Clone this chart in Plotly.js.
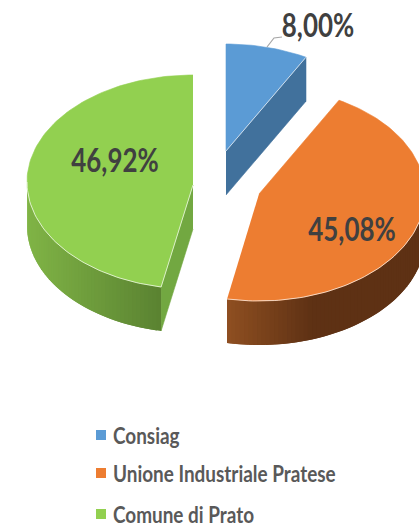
<!DOCTYPE html>
<html>
<head>
<meta charset="utf-8">
<script src="https://cdn.plot.ly/plotly-3.0.1.min.js"></script>
<style>html,body{margin:0;padding:0;background:#fff;overflow:hidden}#chart{width:419px;height:526px}</style>
</head>
<body>
<div id="chart"></div>
<script>
// Quota shares, in percent, clockwise from twelve o'clock
const categories = ['Consiag', 'Unione Industriale Pratese', 'Comune di Prato'];
const shares = [8.00, 45.08, 46.92];
const topColors = ['#5B9BD5', '#ED7D31', '#92D050'];
const wallColors = ['#41719C', '#AE5A21', '#72A841'];
const sideFrom = ['#41719C', '#8F4F21', '#80B446'];
const sideTo = ['#41719C', '#5E3114', '#5A8231'];

// Projected pie geometry, in page pixels
const RX = 166, RY = 107, DEPTH = 44;
const centers = [[226, 151], [259, 194], [193, 182]];
const apexDrop = [0, 0, 3];
const sideGradientSpan = [1, 85, 135];
const labelAt = [[318, 29], [352, 233], [115, 164]];
const legendRows = [435, 473, 514];
const VALUE_WIDTH = 0.81, KEY_WIDTH = 0.86;

const rad = d => d * Math.PI / 180;
const pointOn = (c, deg, drop = 0) => [c[0] + RX * Math.sin(rad(deg)), c[1] - RY * Math.cos(rad(deg)) + drop];
function arc(c, from, to, drop = 0) {
  const n = Math.max(2, Math.ceil(Math.abs(to - from) / 1.5));
  const pts = [];
  for (let i = 0; i <= n; i++) pts.push(pointOn(c, from + (to - from) * i / n, drop));
  return pts;
}
const hex = s => [1, 3, 5].map(i => parseInt(s.substr(i, 2), 16));
function mix(a, b, t) {
  const A = hex(a), B = hex(b);
  return 'rgb(' + A.map((v, i) => Math.round(v + (B[i] - v) * t)).join(',') + ')';
}
function poly(pts, color, outline = 0.6) {
  return {
    type: 'scatter', mode: 'lines', x: pts.map(p => p[0]), y: pts.map(p => p[1]),
    fill: 'toself', fillcolor: color, line: {color: color, width: outline},
    hoverinfo: 'skip', showlegend: false
  };
}
function edge(pts) {
  return {
    type: 'scatter', mode: 'lines', x: pts.map(p => p[0]), y: pts.map(p => p[1]),
    line: {color: 'rgba(255,255,255,0.85)', width: 0.8}, hoverinfo: 'skip', showlegend: false
  };
}

const walls = [], sides = [], tops = [], edges = [];
let start = 0;
shares.forEach((share, i) => {
  const end = start + share * 3.6;
  const c = centers[i];
  const apex = [c[0], c[1] + apexDrop[i]];

  // Radial walls turned toward the viewer
  [[start, start - 90], [end, end + 90]].forEach(([angle, normal]) => {
    if (Math.cos(rad(normal)) < -1e-6) {
      const p = pointOn(c, angle);
      walls.push(poly([apex, p, [p[0], p[1] + DEPTH], [apex[0], apex[1] + DEPTH]], wallColors[i]));
    }
  });

  // Curved rim, front half only; overlapping strips shade it across its width
  const a0 = Math.max(start, 90), a1 = Math.min(end, 270);
  if (a1 > a0) {
    const xLeft = Math.min(pointOn(c, a0)[0], pointOn(c, a1)[0]);
    const strips = Math.ceil((a1 - a0) / 1.5);
    const step = (a1 - a0) / strips;
    for (let k = 0; k < strips; k++) {
      const f = a0 + step * k;
      const g = Math.min(a1, f + step * 2);
      const midX = pointOn(c, f + step / 2)[0];
      const t = Math.min(1, (midX - xLeft) / sideGradientSpan[i]);
      sides.push(poly(arc(c, f, g).concat(arc(c, g, f, DEPTH)), mix(sideFrom[i], sideTo[i], t), 0));
    }
    edges.push(edge(arc(c, a0, a1)));
  }

  // Top face
  tops.push(poly([apex].concat(arc(c, start, end)), topColors[i]));
  if (Math.cos(rad(start - 90)) < -1e-6) edges.push(edge([apex, pointOn(c, start)]));
  if (Math.cos(rad(end + 90)) < -1e-6) edges.push(edge([apex, pointOn(c, end)]));
  start = end;
});

// Percent labels with a decimal comma
const valueLabels = {
  type: 'scatter', mode: 'text',
  x: labelAt.map(p => p[0]), y: labelAt.map(p => p[1]),
  text: shares.map(v => v.toFixed(2).replace('.', ',') + '%'),
  textposition: 'middle center', cliponaxis: false,
  textfont: {family: 'Lato, sans-serif', size: 32, color: '#404040', weight: 'bold'},
  hoverinfo: 'skip', showlegend: false
};

// Leader from the smallest slice to its label
const leader = {
  type: 'scatter', mode: 'lines', x: [267, 274, 282], y: [47, 38, 37],
  line: {color: '#A6A6A6', width: 1.2}, hoverinfo: 'skip', showlegend: false
};

// Key below the pie
const key = {
  type: 'scatter', mode: 'markers',
  x: categories.map(() => 101), y: legendRows,
  marker: {symbol: 'square', size: 10, color: topColors},
  hoverinfo: 'skip', showlegend: false
};
const keyText = {
  type: 'scatter', mode: 'text',
  x: categories.map(() => 113), y: legendRows.map(v => v + 3),
  text: categories, textposition: 'middle right', cliponaxis: false,
  textfont: {family: 'Lato, sans-serif', size: 22, color: '#595959', weight: 'bold'},
  hoverinfo: 'skip', showlegend: false
};

const hidden = {visible: false, fixedrange: true};
Plotly.newPlot('chart', walls.concat(sides, tops, edges, [leader, valueLabels, key, keyText]), {
  width: 419, height: 526, margin: {l: 0, r: 0, t: 0, b: 0},
  paper_bgcolor: '#fff', plot_bgcolor: '#fff', showlegend: false,
  xaxis: Object.assign({range: [0, 419]}, hidden),
  yaxis: Object.assign({range: [526, 0]}, hidden)
}, {displayModeBar: false, staticPlot: true}).then(gd => {
  // The lettering is a tall, condensed cut: narrow the glyphs without changing their height
  gd.querySelectorAll('.textpoint text').forEach(node => {
    const isKey = categories.includes(node.textContent);
    const w = node.getComputedTextLength() * (isKey ? KEY_WIDTH : VALUE_WIDTH);
    node.setAttribute('lengthAdjust', 'spacingAndGlyphs');
    node.setAttribute('textLength', w.toFixed(1));
  });
});
</script>
</body>
</html>
